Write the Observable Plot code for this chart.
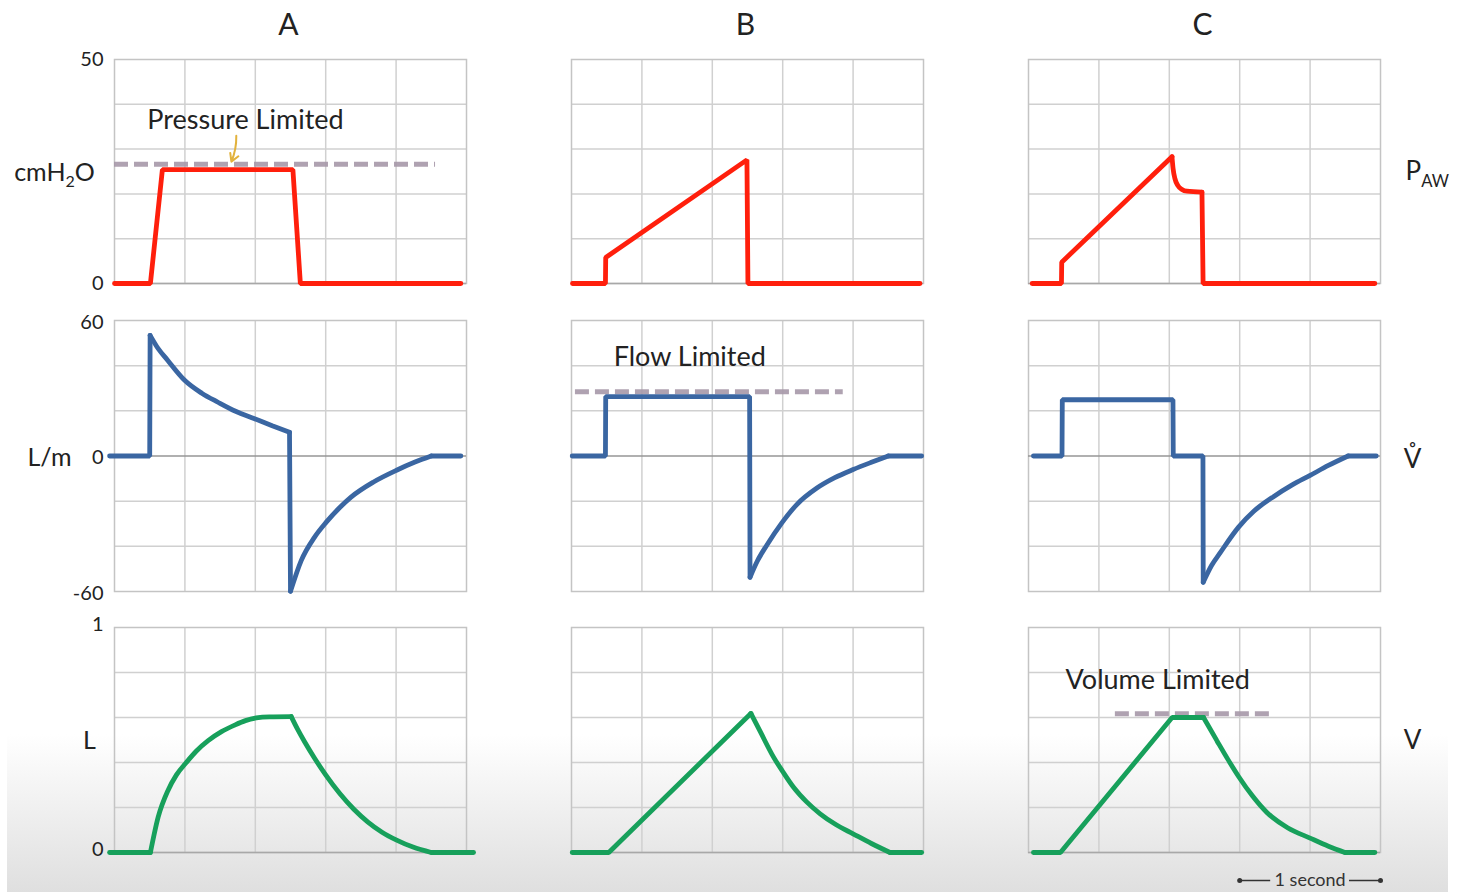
<!DOCTYPE html>
<html>
<head>
<meta charset="utf-8">
<script src="https://cdn.jsdelivr.net/npm/d3@7"></script>
<script src="https://cdn.jsdelivr.net/npm/@observablehq/plot@0.6"></script>
<style>
  html, body { margin: 0; padding: 0; background: #ffffff; }
  #wrap { position: relative; width: 1463px; height: 892px; overflow: hidden; font-family: Lato, "Open Sans", sans-serif; }
  #shade { position: absolute; left: 7px; top: 734px; width: 1441px; height: 158px;
           background: linear-gradient(to bottom, rgba(224,224,224,0) 0%, #dfdfdf 100%); }
  #rows { position: absolute; left: 0; top: 0; }
  #rows svg { display: block; }
</style>
</head>
<body>
<div id="wrap"><div id="shade"></div><div id="rows"></div></div>
<script>
// ---------- data (time in seconds, values in chart units) ----------
// each trace is a list of pieces: ["line", points] drawn straight, ["curve", points] drawn smooth
const panels = ["A", "B", "C"];
const timeGrid = [0.5, 1, 1.5, 2];

// Airway pressure (cmH2O)
const pressureA = [
  ["line", [[0,0],[0.255,0],[0.34,25.4],[1.267,25.4],[1.32,0],[2.46,0]]]
];
const pressureB = [
  ["line", [[0.007,0],[0.241,0],[0.243,5.8],[1.246,27.6],[1.253,0],[2.475,0]]]
];
const pressureC = [
  ["line", [[0.026,0],[0.234,0],[0.236,4.75],[1.019,28.3]]],
  ["curve", [[1.019,28.3],[1.027,25.6],[1.04,23.4],[1.06,21.9],[1.09,21.0],[1.125,20.6],[1.232,20.4]]],
  ["line", [[1.232,20.4],[1.24,0],[2.46,0]]]
];

// Flow (L/m)
const flowA = [
  ["line", [[-0.035,0],[0.25,0],[0.253,53.4]]],
  ["curve", [[0.253,53.4],[0.3,48.5],[0.38,42.2],[0.5,33.4],[0.62,27.8],[0.735,23.8],[0.86,19.8],[0.995,16.5],[1.12,13.4],[1.243,10.5]]],
  ["line", [[1.243,10.5],[1.25,-59.9]]],
  ["curve", [[1.25,-59.9],[1.326,-46.3],[1.42,-36],[1.504,-29.3],[1.6,-22.8],[1.68,-18.2],[1.84,-11.5],[2.007,-6.2],[2.13,-2.8],[2.25,0]]],
  ["line", [[2.25,0],[2.46,0]]]
];
const flowB = [
  ["line", [[0.005,0],[0.241,0],[0.243,26.3],[1.265,26.3],[1.268,-53.7]]],
  ["curve", [[1.268,-53.7],[1.32,-46.5],[1.388,-39.4],[1.494,-29.6],[1.6,-21.5],[1.743,-14.2],[1.87,-9.6],[2.0,-6.0],[2.13,-2.8],[2.25,0]]],
  ["line", [[2.25,0],[2.487,0]]]
];
const flowC = [
  ["line", [[0.035,0],[0.238,0],[0.24,24.9],[1.026,24.9],[1.028,0],[1.239,0],[1.241,-55.9]]],
  ["curve", [[1.241,-55.9],[1.3,-48.5],[1.362,-42.8],[1.492,-31.5],[1.6,-24.5],[1.74,-18.0],[1.87,-12.9],[2.0,-8.6],[2.13,-4.2],[2.27,0]]],
  ["line", [[2.27,0],[2.47,0]]]
];

// Volume (L)
const volumeA = [
  ["line", [[-0.035,0],[0.255,0]]],
  ["curve", [[0.255,0],[0.31,0.157],[0.38,0.276],[0.44,0.345],[0.51,0.40],[0.58,0.45],[0.665,0.497],[0.76,0.537],[0.853,0.566],[0.93,0.586],[1.007,0.598],[1.1,0.603],[1.255,0.604]]],
  ["curve", [[1.255,0.604],[1.3,0.548],[1.35,0.492],[1.42,0.42],[1.5,0.345],[1.6,0.262],[1.7,0.192],[1.8,0.135],[1.9,0.09],[2.0,0.056],[2.12,0.024],[2.25,0]]],
  ["line", [[2.25,0],[2.55,0]]]
];
const volumeB = [
  ["line", [[0.005,0],[0.265,0],[1.274,0.618]]],
  ["curve", [[1.274,0.618],[1.34,0.538],[1.435,0.424],[1.5,0.36],[1.577,0.29],[1.67,0.225],[1.766,0.172],[1.88,0.123],[2.0,0.083],[2.13,0.04],[2.262,0]]],
  ["line", [[2.262,0],[2.487,0]]]
];
const volumeC = [
  ["line", [[0.035,0],[0.227,0],[1.02,0.6],[1.243,0.6]]],
  ["curve", [[1.243,0.6],[1.338,0.497],[1.415,0.415],[1.492,0.338],[1.59,0.252],[1.693,0.178],[1.84,0.11],[2.0,0.064],[2.13,0.028],[2.248,0]]],
  ["line", [[2.248,0],[2.46,0]]]
];

// Limits (dashed): panel, start time, end time, value
const pressureLimit = [{panel: "A", t1: 0, t2: 2.28, v: 26.6}];
const flowLimit = [{panel: "B", t1: 0.028, t2: 1.93, v: 28.4}];
const volumeLimit = [{panel: "C", t1: 0.617, t2: 1.752, v: 0.617}];

// Annotations
const pressureNote = [{panel: "A", t: 0.93, v: 36.5, label: "Pressure Limited"}];
const pressureArrow = [{panel: "A", t1: 0.865, v1: 33, t2: 0.83, v2: 27.2}];
const flowNote = [{panel: "B", t: 0.84, v: 43.6, label: "Flow Limited"}];
const volumeNote = [{panel: "C", t: 0.918, v: 0.764, label: "Volume Limited"}];
const scaleBar = [{panel: "C", t1: 1.5, t2: 2.5, label: "1 second"}];

// Axis texts
const pressureTicks = [0, 50], pressureGrid = [10, 20, 30, 40];
const flowTicks = [-60, 0, 60], flowGrid = [-40, -20, 20, 40];
const volumeTicks = [0, 1], volumeGrid = [0.2, 0.4, 0.6, 0.8];
const unitLabels = ["cmH2O", "L/m", "L"];
const rightLabels = ["PAW", "V\u030A", "V"];

// ---------- drawing ----------
const RED = "#ff1f0c", BLUE = "#3a66a2", GREEN = "#17a05b", LIMIT = "#a698a8", GRID = "#d0d0d0", INK = "#222222";
const FONT = "Lato, 'Open Sans', sans-serif";

function splitPieces(series) {
  const straight = [], smooth = [];
  series.forEach((pieces, i) => {
    pieces.forEach(([kind, pts], j) => {
      const rows = pts.map(([t, v]) => ({panel: panels[i], z: panels[i] + j, t, v}));
      (kind === "curve" ? smooth : straight).push(...rows);
    });
  });
  return {straight, smooth};
}

function makeRow(cfg) {
  const {straight, smooth} = splitPieces(cfg.series);
  const lineStyle = {x: "t", y: "v", fx: "panel", z: "z", stroke: cfg.color, strokeWidth: 4.8, strokeLinejoin: "miter", strokeLinecap: "round"};
  const marks = [
    Plot.gridX(timeGrid, {stroke: GRID, strokeOpacity: 1, strokeWidth: 1.5}),
    Plot.gridY(cfg.grid, {stroke: GRID, strokeOpacity: 1, strokeWidth: 1.5}),
    Plot.frame({stroke: "#c4c4c4", strokeWidth: 1.5}),
    Plot.ruleY([0], {stroke: cfg.zeroStroke, strokeWidth: 1.5}),
    Plot.axisY(cfg.ticks, {tickSize: 0, tickPadding: 11, fontSize: 20, tickFormat: d => String(d), label: null, color: INK, dy: cfg.tickDy || 0}),
    Plot.text([cfg.unit], {fx: () => "A", text: d => d, frameAnchor: "left", lineAnchor: "middle", dx: cfg.unitDx, dy: cfg.unitDy, fontSize: 25, textAnchor: "middle", fill: INK}),
    Plot.text([cfg.right], {fx: () => "C", text: d => d, frameAnchor: "right", lineAnchor: "middle", dx: cfg.rightDx, dy: cfg.rightDy, fontSize: 26, textAnchor: cfg.rightAnchor, fill: INK}),
    ...cfg.extra,
    Plot.line(straight, {...lineStyle, curve: "linear"}),
    Plot.line(smooth, {...lineStyle, curve: "monotone-x"})
  ];
  return Plot.plot({
    width: 1463,
    height: cfg.height,
    marginLeft: 113,
    marginRight: 83,
    marginTop: cfg.mt,
    marginBottom: cfg.mb,
    style: {background: "transparent", fontFamily: FONT, color: INK, overflow: "visible"},
    x: {domain: [0, 2.5], axis: null},
    y: {domain: cfg.domain, axis: null},
    fx: {domain: panels, paddingInner: 0.2306, paddingOuter: 0, axis: null, label: null},
    marks
  });
}

const limitStyle = {stroke: LIMIT, strokeWidth: 5, strokeDasharray: "14,6", strokeOpacity: 0.9};
const noteStyle = {fontSize: 27, fill: INK};

const row1 = makeRow({
  height: 300, mt: 59, mb: 17, domain: [0, 50],
  ticks: pressureTicks, grid: pressureGrid, zeroStroke: "#a8a8a8",
  series: [pressureA, pressureB, pressureC], color: RED,
  unit: unitLabels[0], unitDx: -60, unitDy: 1,
  right: rightLabels[0], rightDx: 25, rightDy: 0, rightAnchor: "start",
  extra: [
    Plot.text(panels, {fx: d => d, text: d => d, frameAnchor: "top", lineAnchor: "middle", dy: -34, dx: -2, fontSize: 30, fill: INK}),
    Plot.ruleY(pressureLimit, {fx: "panel", y: "v", x1: "t1", x2: "t2", ...limitStyle}),
    Plot.text(pressureNote, {fx: "panel", x: "t", y: "v", text: "label", ...noteStyle}),
    Plot.arrow(pressureArrow, {fx: "panel", x1: "t1", y1: "v1", x2: "t2", y2: "v2", stroke: "#e2b23c", strokeWidth: 2, headLength: 7, bend: 12})
  ]
});

const row2 = makeRow({
  height: 310, mt: 20, mb: 19, domain: [-60, 60],
  ticks: flowTicks, grid: flowGrid, zeroStroke: "#969696", tickDy: 2,
  series: [flowA, flowB, flowC], color: BLUE,
  unit: unitLabels[1], unitDx: -65, unitDy: 2,
  right: rightLabels[1], rightDx: 32, rightDy: 4, rightAnchor: "middle",
  extra: [
    Plot.ruleY(flowLimit, {fx: "panel", y: "v", x1: "t1", x2: "t2", ...limitStyle}),
    Plot.text(flowNote, {fx: "panel", x: "t", y: "v", text: "label", ...noteStyle})
  ]
});

const row3 = makeRow({
  height: 282, mt: 17, mb: 40, domain: [0, 1],
  ticks: volumeTicks, grid: volumeGrid, zeroStroke: "#a8a8a8", tickDy: -3,
  series: [volumeA, volumeB, volumeC], color: GREEN,
  unit: unitLabels[2], unitDx: -25, unitDy: 1,
  right: rightLabels[2], rightDx: 32, rightDy: 1, rightAnchor: "middle",
  extra: [
    Plot.ruleY(volumeLimit, {fx: "panel", y: "v", x1: "t1", x2: "t2", ...limitStyle}),
    Plot.text(volumeNote, {fx: "panel", x: "t", y: "v", text: "label", ...noteStyle}),
    Plot.ruleY(scaleBar, {fx: "panel", y: () => 0, x1: "t1", x2: d => d.t1 + 0.22, dy: 28, stroke: "#333", strokeWidth: 1.5}),
    Plot.ruleY(scaleBar, {fx: "panel", y: () => 0, x1: d => d.t2 - 0.22, x2: "t2", dy: 28, stroke: "#333", strokeWidth: 1.5}),
    Plot.dot(scaleBar.flatMap(d => [{panel: d.panel, t: d.t1}, {panel: d.panel, t: d.t2}]), {fx: "panel", x: "t", y: () => 0, dy: 28, r: 2.5, fill: "#333", stroke: null}),
    Plot.text(scaleBar, {fx: "panel", x: d => (d.t1 + d.t2) / 2, y: () => 0, dy: 28, text: "label", fontSize: 18, fill: "#333"})
  ]
});

// subscripts as real SVG text
function subscript(svg) {
  const ns = "http://www.w3.org/2000/svg";
  svg.querySelectorAll("text").forEach(t => {
    const s = t.textContent;
    let parts = null;
    if (s === "cmH2O") parts = ["cmH", "2", "O", 6];
    if (s === "PAW") parts = ["P", "AW", "", 7];
    if (!parts) return;
    while (t.firstChild) t.removeChild(t.firstChild);
    const a = document.createElementNS(ns, "tspan"); a.textContent = parts[0]; t.appendChild(a);
    const b = document.createElementNS(ns, "tspan"); b.textContent = parts[1];
    b.setAttribute("dy", parts[3]); b.setAttribute("font-size", "64%"); t.appendChild(b);
    if (parts[2]) {
      const c = document.createElementNS(ns, "tspan"); c.textContent = parts[2];
      c.setAttribute("dy", -parts[3]); t.appendChild(c);
    }
  });
}

const holder = document.getElementById("rows");
[row1, row2, row3].forEach(svg => { subscript(svg); holder.appendChild(svg); });
</script>
</body>
</html>
